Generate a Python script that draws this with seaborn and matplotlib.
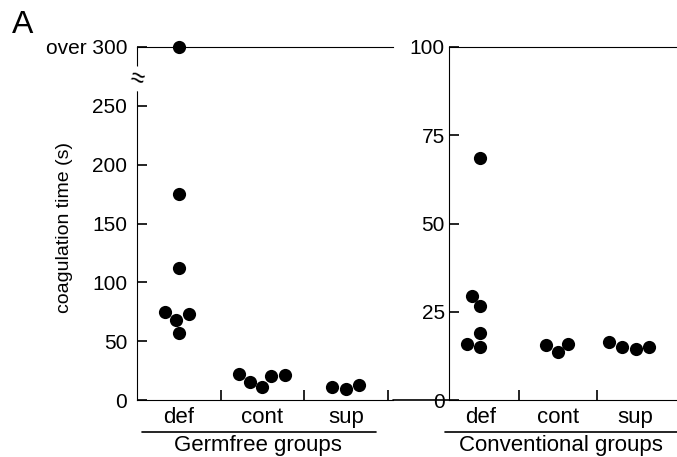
import numpy as np
import pandas as pd
import matplotlib.pyplot as plt
from matplotlib.lines import Line2D
import seaborn as sns

# ================================
# DATA (coagulation time in s)
# ================================

groups = ['def', 'cont', 'sup']

germfree_def = [300, 175, 112, 75, 57, 68, 73]   # 300 = "over 300"
germfree_cont = [15.5, 21, 11, 20, 22]
germfree_sup = [9.5, 11, 12.5]

conv_def = [68.5, 29.5, 26.5, 19, 16, 15]
conv_cont = [15.5, 13.5, 16]
conv_sup = [15, 15, 14.5, 16.5]

left_ticks = [0, 50, 100, 150, 200, 250, 300]
left_ticklabels = ['0', '50', '100', '150', '200', '250', 'over 300']
right_ticks = [0, 25, 50, 75, 100]


def to_frame(a, b, c):
    return pd.DataFrame({
        'group': ['def'] * len(a) + ['cont'] * len(b) + ['sup'] * len(c),
        'time': a + b + c,
    })


gf = to_frame(germfree_def, germfree_cont, germfree_sup)
cv = to_frame(conv_def, conv_cont, conv_sup)

# ================================
# STYLE
# ================================

sns.set_style('ticks', rc={
    'axes.edgecolor': 'black',
    'axes.labelcolor': 'black',
    'text.color': 'black',
    'xtick.color': 'black',
    'ytick.color': 'black',
    'axes.linewidth': 1.2,
})
plt.rcParams['font.family'] = ['Liberation Sans', 'DejaVu Sans']

W, H = 677, 457
fig = plt.figure(figsize=(W / 100, H / 100), dpi=100)
ax1 = fig.add_axes([137 / W, 57 / H, 256 / W, 353 / H])
ax2 = fig.add_axes([449 / W, 57 / H, 228 / W, 353 / H])

# ================================
# PLOTS
# ================================

sns.swarmplot(data=gf, x='group', y='time', order=groups, color='black',
              size=9.5, linewidth=0, ax=ax1)
sns.swarmplot(data=cv, x='group', y='time', order=groups, color='black',
              size=9.5, linewidth=0, ax=ax2)

ax1.set_xlim(-0.5, 2.56)
ax1.set_ylim(0, 300)
ax2.set_xlim(-0.4, 2.53)
ax2.set_ylim(0, 100)

ax1.set_yticks(left_ticks)
ax1.set_yticklabels(left_ticklabels)
ax2.set_yticks(right_ticks)

for ax, seps in [(ax1, [0.5, 1.5, 2.5]), (ax2, [0.5, 1.5])]:
    for c in ax.collections:
        c.set_clip_on(False)
    ax.spines['right'].set_visible(False)
    ax.set_xticks([0, 1, 2])
    ax.set_xticklabels(groups)
    ax.set_xticks(seps, minor=True)
    ax.tick_params(axis='x', which='major', length=0, labelsize=16, pad=5)
    ax.tick_params(axis='x', which='minor', direction='in', length=7, width=1.2)
    ax.tick_params(axis='y', direction='in', length=7, width=1.2, labelsize=15)
    ax.set_xlabel('')
    ax.set_ylabel('')

ax1.tick_params(axis='y', pad=7)
ax2.tick_params(axis='y', pad=3)

ax1.set_ylabel('coagulation time (s)', fontsize=14)
ax1.yaxis.set_label_coords(-0.25, 0.49)

# axis break mark
ax1.text(0, 273, '≈', transform=ax1.get_yaxis_transform(), ha='center',
         va='center', fontsize=18, rotation=-15,
         bbox=dict(facecolor='white', edgecolor='none', pad=0))

# baseline running through the gap between the panels
fig.add_artist(Line2D([393 / W, 449 / W], [57 / H, 57 / H],
                      transform=fig.transFigure, color='black', lw=1.2))

# group underlines and labels
fig.add_artist(Line2D([142 / W, 376 / W], [25 / H, 25 / H],
                      transform=fig.transFigure, color='black', lw=1.2))
fig.add_artist(Line2D([445 / W, 677 / W], [25 / H, 25 / H],
                      transform=fig.transFigure, color='black', lw=1.2))
fig.text(258 / W, 6 / H, 'Germfree groups', ha='center', va='baseline', fontsize=16)
fig.text(561 / W, 6 / H, 'Conventional groups', ha='center', va='baseline', fontsize=16)

fig.text(12 / W, (H - 33) / H, 'A', ha='left', va='baseline', fontsize=23)

fig.savefig('out.png', dpi=100)
